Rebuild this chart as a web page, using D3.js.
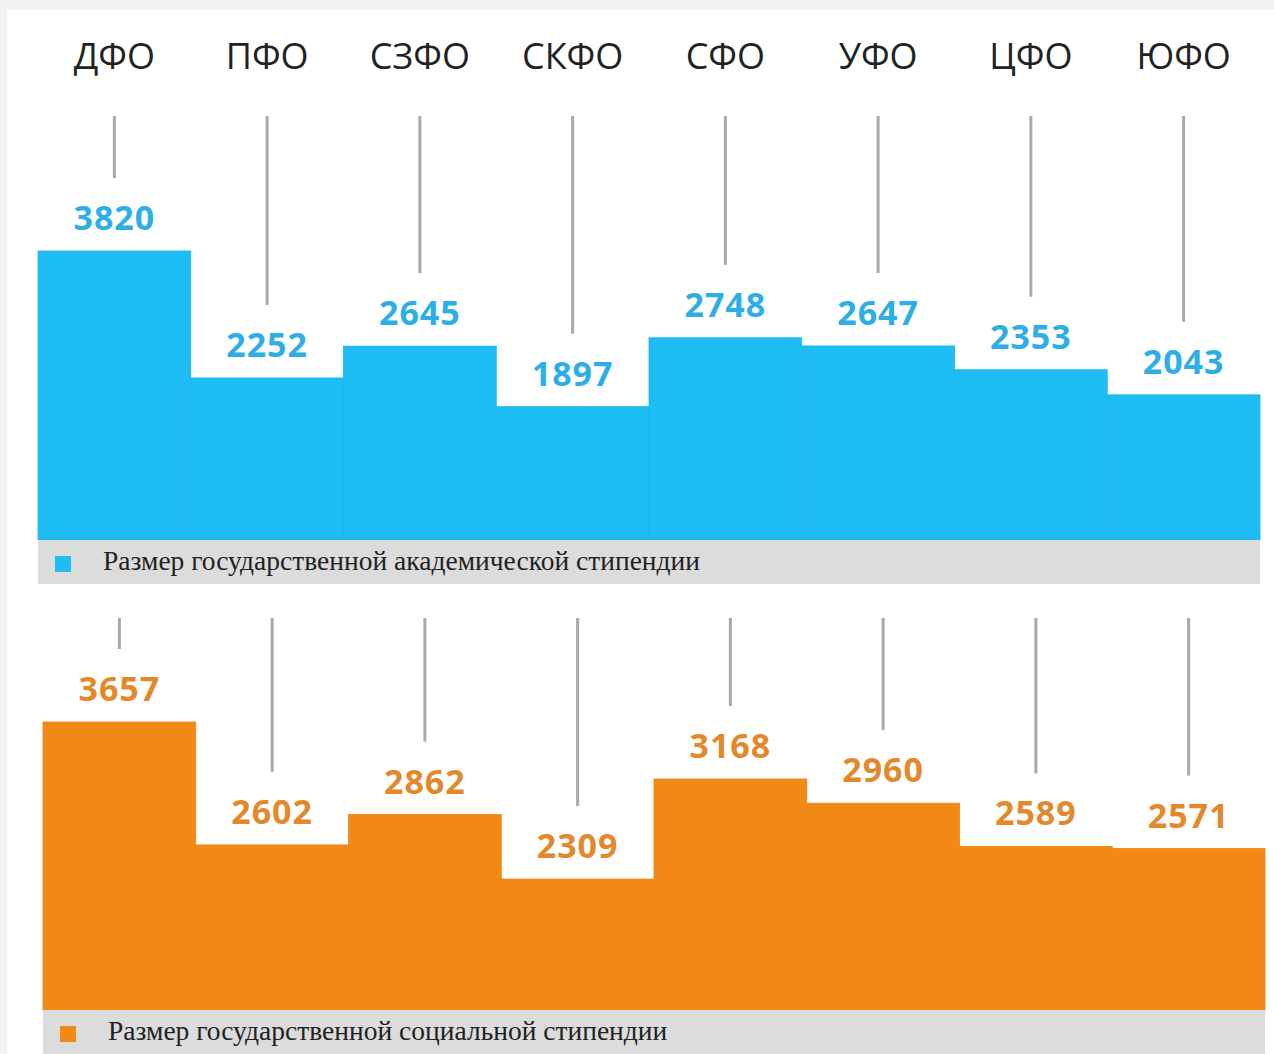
<!DOCTYPE html>
<html>
<head>
<meta charset="utf-8">
<script src="https://cdn.jsdelivr.net/npm/d3@7"></script>
<style>
  body { margin: 0; background: #f2f2f2; }
  svg { display: block; }
</style>
</head>
<body>
<div id="chart"></div>
<script>
var width = 1274;
var height = 1054;

// data
var regions = ["ДФО", "ПФО", "СЗФО", "СКФО", "СФО", "УФО", "ЦФО", "ЮФО"];
var academic = [3820, 2252, 2645, 1897, 2748, 2647, 2353, 2043];
var social = [3657, 2602, 2862, 2309, 3168, 2960, 2589, 2571];
var legendAcademic = "Размер государственной академической стипендии";
var legendSocial = "Размер государственной социальной стипендии";

var svg = d3.select("#chart").append("svg")
  .attr("width", width)
  .attr("height", height);

// white sheet over the grey page
svg.append("rect")
  .attr("x", 7).attr("y", 10)
  .attr("width", width - 7).attr("height", height - 10)
  .attr("fill", "#fff");

// region names on top
var xHead = d3.scaleBand().domain(regions).range([38, 1260]);
svg.append("g")
  .selectAll("text")
  .data(regions)
  .join("text")
    .attr("x", d => xHead(d) + xHead.bandwidth() / 2)
    .attr("y", 69)
    .attr("text-anchor", "middle")
    .attr("font-family", "Open Sans, sans-serif")
    .attr("font-size", 36)
    .attr("fill", "#222")
    .text(d => d);

function panel(opts) {
  var x = d3.scaleBand().domain(regions).range([opts.x0, opts.x1]);
  var y = d3.scaleLinear().domain(opts.domain).range([opts.base, opts.top]);
  var g = svg.append("g");
  var rows = regions.map((r, i) => ({ region: r, value: opts.values[i] }));

  // leader lines
  g.append("g")
    .selectAll("line")
    .data(rows)
    .join("line")
      .attr("x1", d => x(d.region) + x.bandwidth() / 2)
      .attr("x2", d => x(d.region) + x.bandwidth() / 2)
      .attr("y1", opts.lineTop)
      .attr("y2", d => y(d.value) - 73)
      .attr("stroke", "#a9a9a9")
      .attr("stroke-width", 3);

  // bars
  g.append("g")
    .selectAll("rect")
    .data(rows)
    .join("rect")
      .attr("x", d => x(d.region))
      .attr("y", d => y(d.value))
      .attr("width", x.bandwidth())
      .attr("height", d => opts.base - y(d.value))
      .attr("fill", opts.color)
      .attr("stroke", opts.seam)
      .attr("stroke-width", 0.8);

  // value labels
  g.append("g")
    .selectAll("text")
    .data(rows)
    .join("text")
      .attr("x", d => x(d.region) + x.bandwidth() / 2)
      .attr("y", d => y(d.value) - 21)
      .attr("text-anchor", "middle")
      .attr("font-family", "Open Sans, sans-serif")
      .attr("font-weight", "bold")
      .attr("font-size", 34)
      .attr("letter-spacing", 1)
      .attr("fill", opts.labelColor)
      .text(d => d.value);

  // legend band
  g.append("rect")
    .attr("x", opts.x0)
    .attr("y", opts.base)
    .attr("width", opts.x1 - opts.x0)
    .attr("height", 44)
    .attr("fill", "#dcdcdc");
  g.append("rect")
    .attr("x", opts.x0 + 17)
    .attr("y", opts.base + 16)
    .attr("width", 16).attr("height", 16)
    .attr("fill", opts.color);
  g.append("text")
    .attr("x", opts.x0 + 65)
    .attr("y", opts.base + 30)
    .attr("font-family", "Liberation Serif, serif")
    .attr("font-size", 27.5)
    .attr("fill", "#222")
    .text(opts.legend);
}

panel({
  values: academic, x0: 38, x1: 1260, base: 540, top: 251,
  domain: [250, 3820], lineTop: 116,
  color: "#1fbdf6", seam: "#1cb4ec", labelColor: "#2eaee6",
  legend: legendAcademic
});

panel({
  values: social, x0: 43, x1: 1265, base: 1010, top: 722,
  domain: [1185, 3657], lineTop: 618,
  color: "#f28914", seam: "#ea8412", labelColor: "#e4882c",
  legend: legendSocial
});
</script>
</body>
</html>
